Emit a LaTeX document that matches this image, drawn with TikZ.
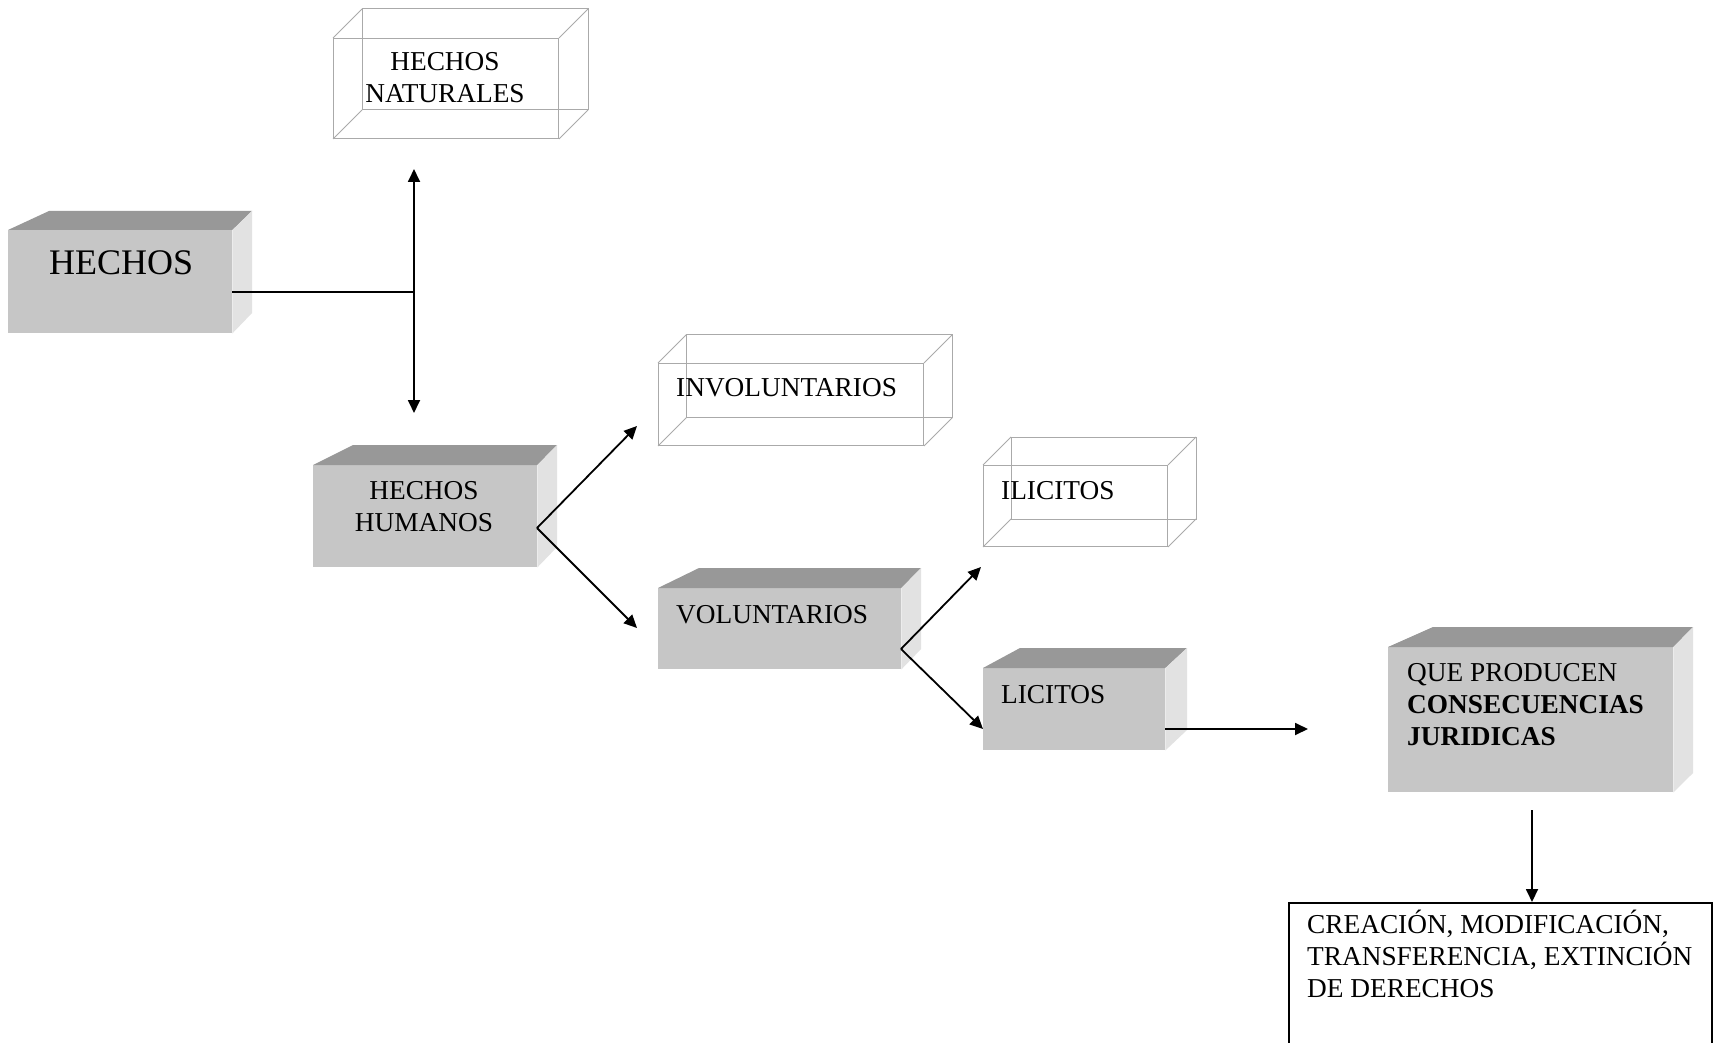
\documentclass[tikz,border=0pt]{standalone}
\usepackage{fontspec}
\setmainfont{Liberation Serif}
\usetikzlibrary{arrows.meta,calc}
\definecolor{frontgray}{RGB}{198,198,198}
\definecolor{topgray}{RGB}{152,152,152}
\definecolor{sidegray}{RGB}{226,226,226}
\definecolor{wiregray}{RGB}{170,170,170}
\tikzset{
  front/.style={fill=frontgray, inner sep=0, anchor=north west},
  topface/.style={fill=topgray},
  sideface/.style={fill=sidegray},
  wire/.style={draw=wiregray, line width=1pt},
  wirefront/.style={wire, inner sep=0, anchor=north west},
  lbl/.style={inner sep=0, font=\fontsize{27.3}{32}\selectfont},
  conn/.style={line width=1.8pt, -{Triangle[length=13pt,width=12pt]}},
  plain/.style={line width=1.8pt},
}
\newcommand\wireback[2]{%
  \draw[wire] ([shift={(#2,-#2)}]#1.north west) rectangle ([shift={(#2,-#2)}]#1.south east);
  \draw[wire] (#1.north west) -- ++(#2,-#2);
  \draw[wire] (#1.north east) -- ++(#2,-#2);
  \draw[wire] (#1.south west) -- ++(#2,-#2);
  \draw[wire] (#1.south east) -- ++(#2,-#2);}
\newcommand\solidback[5]{%
  \fill[topface] (#1.north west) -- (#2,#4) -- (#3,#4) -- (#1.north east) -- cycle;
  \fill[sideface] (#1.north east) -- (#3,#4) -- (#3,#5) -- (#1.south east) -- cycle;}
\begin{document}
\begin{tikzpicture}[x=1pt,y=-1pt]
\path[use as bounding box, fill=white] (0,0) rectangle (1713,1043);
\clip (0,0) rectangle (1713,1043);

% solid boxes
\node[front, minimum width=224, minimum height=103] (hechos) at (8,230) {};
\solidback{hechos}{49}{252}{211}{313}
\node[front, minimum width=224, minimum height=102] (humanos) at (313,465) {};
\solidback{humanos}{353}{557}{445}{547}
\node[front, minimum width=243, minimum height=81] (volunt) at (658,588) {};
\solidback{volunt}{699}{921}{568}{649}
\node[front, minimum width=182, minimum height=82] (licitos) at (983,668) {};
\solidback{licitos}{1020}{1187}{648}{730}
\node[front, minimum width=285, minimum height=145] (que) at (1388,647) {};
\solidback{que}{1433}{1693}{627}{773}

% wireframe boxes
\node[wirefront, minimum width=225, minimum height=100] (natur) at (333,38) {};
\wireback{natur}{29}
\node[wirefront, minimum width=265, minimum height=82] (invol) at (658,363) {};
\wireback{invol}{28.5}
\node[wirefront, minimum width=184, minimum height=81] (ilic) at (983,465) {};
\wireback{ilic}{28}

% result box
\node[draw, line width=1.5pt, inner sep=0, anchor=north west, minimum width=423, minimum height=150] (crea) at (1288,902) {};

% texts (base anchor = baseline of last line)
\node[lbl, anchor=base, align=center] (natur-t) at (445,103) {HECHOS\\NATURALES};
\node[inner sep=0, anchor=base west, font=\fontsize{36}{40}\selectfont] (hechos-t) at (49,274) {HECHOS};
\node[lbl, anchor=base, align=center] (humanos-t) at (424,531) {HECHOS\\HUMANOS};
\node[lbl, anchor=base west] (invol-t) at (676,396) {INVOLUNTARIOS};
\node[lbl, anchor=base west] (volunt-t) at (676,623) {VOLUNTARIOS};
\node[lbl, anchor=base west] (ilic-t) at (1001,499) {ILICITOS};
\node[lbl, anchor=base west] (licitos-t) at (1001,703) {LICITOS};
\node[lbl, anchor=base west, align=left] (que-t) at (1407,745) {QUE PRODUCEN\\\textbf{CONSECUENCIAS}\\\textbf{JURIDICAS}};
\node[lbl, anchor=base west, align=left] (crea-t) at (1307,997) {CREACIÓN, MODIFICACIÓN,\\TRANSFERENCIA, EXTINCIÓN\\DE DERECHOS};

% connectors
\coordinate (h-out) at (232,292);
\coordinate (junc) at (414,292);
\coordinate (up) at (414,169);
\coordinate (down) at (414,413);
\draw[plain] (h-out) -- (junc);
\draw[line width=1.8pt, {Triangle[length=13pt,width=12pt]}-{Triangle[length=13pt,width=12pt]}] (up) -- (down);

\coordinate (hh-out) at (537,528);
\coordinate (invol-in) at (637,426);
\coordinate (volunt-in) at (637,628);
\draw[conn] (hh-out) -- (invol-in);
\draw[conn] (hh-out) -- (volunt-in);

\coordinate (v-out) at (901,649);
\coordinate (ilic-in) at (981,567);
\draw[conn] (v-out) -- (ilic-in);
\draw[conn] (v-out) -- (licitos.west |- 0,729);

\draw[conn] (licitos.east |- 0,729) -- (1308,729);
\coordinate (que-out) at (1532,810);
\draw[conn] (que-out) -- (crea.north -| que-out);
\end{tikzpicture}
\end{document}
